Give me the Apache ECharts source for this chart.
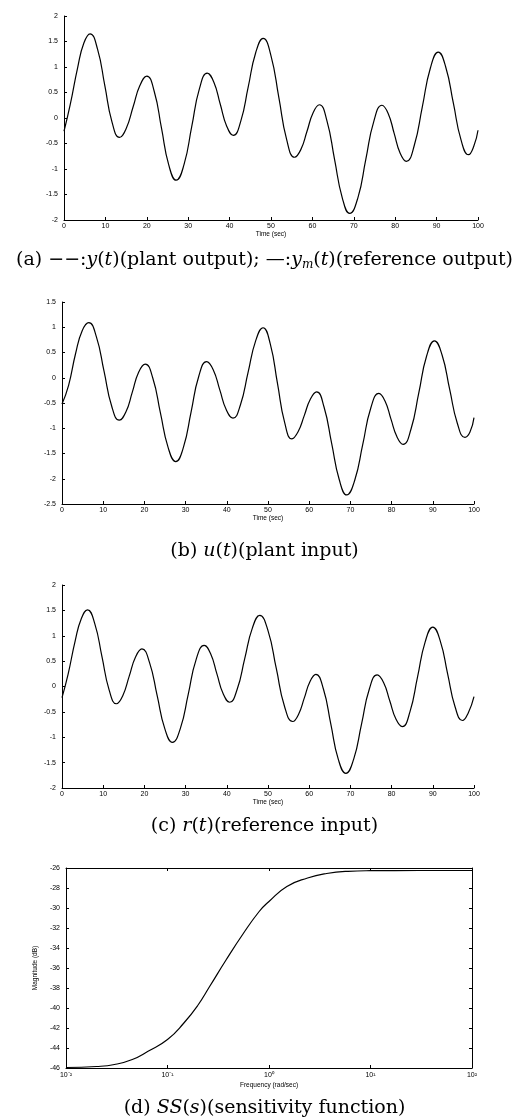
<!DOCTYPE html>
<html><head><meta charset="utf-8">
<script src="https://cdn.jsdelivr.net/npm/echarts@6/dist/echarts.min.js"></script>
<style>html,body{margin:0;padding:0;background:#fff}#c{width:529px;height:1119px}</style>
</head><body><div id="c"></div>
<script>
// (a) plant / reference output
const timeA=[0,1.5,3.3,4.8,6.3,8.1,9.85,11.6,13.4,15.05,16.7,18.35,20.0,21.8,23.55,25.3,27.1,29.0,30.85,32.7,34.6,36.2,37.75,39.3,40.9,42.7,44.5,46.3,48.1,50.0,51.9,53.8,55.7,57.2,58.7,60.2,61.7,63.5,65.35,67.2,69.0,71.0,72.9,74.85,76.8,78.3,79.75,81.2,82.7,84.6,86.55,88.5,90.4,92.2,94.05,95.9,97.7,99,100];
const valA=[-0.26,0.26,0.99,1.47,1.65,1.35,0.64,-0.08,-0.38,-0.20,0.22,0.64,0.82,0.52,-0.20,-0.92,-1.22,-0.91,-0.17,0.57,0.88,0.70,0.27,-0.16,-0.34,-0.06,0.61,1.28,1.56,1.22,0.40,-0.43,-0.77,-0.62,-0.26,0.11,0.26,-0.05,-0.81,-1.56,-1.87,-1.56,-0.81,-0.06,0.25,0.09,-0.30,-0.69,-0.85,-0.54,0.22,0.98,1.29,1.00,0.29,-0.43,-0.72,-0.55,-0.24];
// (b) plant input
const timeB=[0,1.6,3.3,4.9,6.5,8.35,10.2,12.05,13.9,15.5,17.05,18.6,20.2,22.05,23.9,25.75,27.6,29.5,31.35,33.2,35.1,36.7,38.3,39.9,41.5,43.3,45.15,47.0,48.8,50.55,52.3,54.05,55.8,57.3,58.8,60.3,61.8,63.6,65.45,67.3,69.1,71.05,73.0,74.95,76.9,78.4,79.85,81.3,82.8,84.7,86.6,88.5,90.4,92.25,94.1,95.95,97.8,99,100];
const valB=[-0.52,-0.15,0.48,0.93,1.09,0.81,0.13,-0.56,-0.84,-0.68,-0.29,0.11,0.27,-0.01,-0.70,-1.38,-1.66,-1.37,-0.67,0.03,0.32,0.16,-0.24,-0.64,-0.80,-0.54,0.10,0.73,0.99,0.67,-0.11,-0.89,-1.21,-1.07,-0.75,-0.42,-0.28,-0.58,-1.30,-2.02,-2.32,-2.03,-1.32,-0.60,-0.31,-0.46,-0.82,-1.17,-1.32,-1.02,-0.30,0.43,0.73,0.45,-0.23,-0.90,-1.18,-1.08,-0.79];
// (c) reference input
const timeC=[0,1.5,3.2,4.7,6.2,7.95,9.7,11.45,13.2,14.75,16.3,17.85,19.4,21.25,23.1,24.95,26.8,28.75,30.65,32.55,34.5,36.05,37.6,39.15,40.7,42.5,44.35,46.2,48.0,50.0,52.0,54.0,56.0,57.4,58.8,60.2,61.6,63.45,65.25,67.05,68.9,70.8,72.7,74.6,76.5,78.05,79.55,81.05,82.6,84.45,86.3,88.15,90.0,91.8,93.6,95.4,97.2,98.6,100];
const valC=[-0.22,0.25,0.90,1.34,1.51,1.24,0.59,-0.07,-0.34,-0.18,0.20,0.58,0.74,0.47,-0.18,-0.83,-1.10,-0.82,-0.15,0.53,0.81,0.65,0.25,-0.15,-0.31,-0.06,0.55,1.15,1.40,1.10,0.36,-0.39,-0.69,-0.55,-0.23,0.10,0.24,-0.05,-0.74,-1.43,-1.71,-1.43,-0.74,-0.05,0.23,0.08,-0.28,-0.64,-0.79,-0.50,0.19,0.88,1.17,0.90,0.25,-0.40,-0.67,-0.52,-0.20];
// (d) sensitivity function magnitude
const freqD=[0.01,0.02,0.03,0.045,0.065,0.1,0.145,0.2,0.26,0.38,0.55,0.8,1.0,1.5,2.4,3.7,6,10,30,100];
const magD=[-45.95,-45.85,-45.65,-45.15,-44.3,-43.15,-41.5,-39.7,-37.85,-35.15,-32.65,-30.35,-29.35,-27.85,-27.0,-26.55,-26.33,-26.27,-26.25,-26.25];
const logTickLabels=['10\u207B\u00B2','10\u207B\u00B9','10\u2070','10\u00B9','10\u00B2'];
const captions=[
 '(a) \u2212\u2212:{i|y}({i|t})(plant output); \u2014:{i|y}{sub|m}({i|t})(reference output)',
 '(b) {i|u}({i|t})(plant input)',
 '(c) {i|r}({i|t})(reference input)',
 '(d) {i|SS}({i|s})(sensitivity function)'
];
const timeName='Time (sec)', freqName='Frequency (rad/sec)', magName='Magnitude (dB)';

const zip=(a,b)=>a.map((x,i)=>[x,b[i]]);
const chart=echarts.init(document.getElementById('c'),null,{renderer:'canvas'});
const lbl={color:'#000',fontSize:7,fontFamily:'Liberation Sans'};
const axLine={show:true,onZero:false,lineStyle:{color:'#000',width:1}};
const tick={show:true,inside:true,length:3,lineStyle:{color:'#000',width:1}};
function timeX(g){return {gridIndex:g,type:'value',min:0,max:100,interval:10,axisLine:axLine,axisTick:tick,splitLine:{show:false},
  axisLabel:Object.assign({margin:3},lbl),name:timeName,nameLocation:'middle',nameGap:10,nameTextStyle:{color:'#000',fontSize:6.5,fontFamily:'Liberation Sans'}};}
function valY(g,mn,mx){return {gridIndex:g,type:'value',min:mn,max:mx,interval:0.5,axisLine:axLine,axisTick:tick,splitLine:{show:false},
  axisLabel:Object.assign({margin:6},lbl)};}
const grids=[
 {left:64,top:16,width:414,height:204},
 {left:62,top:302,width:412,height:202},
 {left:62,top:585,width:412,height:203},
 {left:66,top:868,width:406,height:200}
];
const capFont=19;
const rich={i:{fontFamily:'DejaVu Serif',fontStyle:'italic',fontSize:capFont,color:'#000',lineHeight:22},
  sub:{fontFamily:'DejaVu Serif',fontStyle:'italic',fontSize:12,color:'#000',lineHeight:12,verticalAlign:'bottom'}};
const capTops=[249,540,815,1097];
const option={
 animation:false,
 backgroundColor:'#fff',
 title:captions.map((t,k)=>({text:t,left:'center',top:capTops[k],padding:0,
   textStyle:{fontFamily:'DejaVu Serif',fontSize:capFont,fontWeight:'normal',color:'#000',lineHeight:22,rich:rich}})),
 grid:grids,
 xAxis:[timeX(0),timeX(1),timeX(2),
  {gridIndex:3,type:'log',logBase:10,min:0.01,max:100,axisLine:axLine,axisTick:tick,splitLine:{show:false},
   axisLabel:Object.assign({margin:4,formatter:v=>logTickLabels[Math.round(Math.log10(v))+2]},lbl),
   name:freqName,nameLocation:'middle',nameGap:14,nameTextStyle:{color:'#000',fontSize:6.5,fontFamily:'Liberation Sans'}},
  {gridIndex:3,type:'log',logBase:10,min:0.01,max:100,position:'top',axisLine:axLine,axisTick:tick,axisLabel:{show:false},splitLine:{show:false}}
 ],
 yAxis:[valY(0,-2,2),valY(1,-2.5,1.5),valY(2,-2,2),
  {gridIndex:3,type:'value',min:-46,max:-26,interval:2,axisLine:axLine,axisTick:tick,splitLine:{show:false},
   axisLabel:Object.assign({margin:6},lbl),name:magName,nameLocation:'middle',nameGap:24,
   nameTextStyle:{color:'#000',fontSize:6.5,fontFamily:'Liberation Sans'}},
  {gridIndex:3,type:'value',min:-46,max:-26,interval:2,position:'right',axisLine:axLine,axisTick:tick,axisLabel:{show:false},splitLine:{show:false}}
 ],
 series:[
  {type:'line',xAxisIndex:0,yAxisIndex:0,data:zip(timeA,valA)},
  {type:'line',xAxisIndex:1,yAxisIndex:1,data:zip(timeB,valB)},
  {type:'line',xAxisIndex:2,yAxisIndex:2,data:zip(timeC,valC)},
  {type:'line',xAxisIndex:3,yAxisIndex:3,data:zip(freqD,magD)}
 ].map(s=>Object.assign(s,{showSymbol:false,smooth:true,lineStyle:{color:'#000',width:1.2},silent:true}))
};
chart.setOption(option);
</script></body></html>
